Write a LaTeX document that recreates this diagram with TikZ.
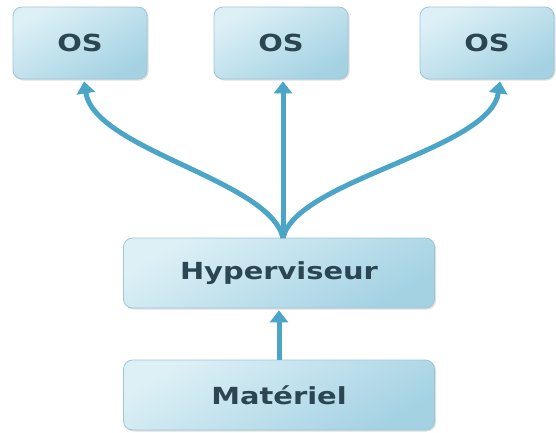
\documentclass[tikz,border=0pt]{standalone}
\usepackage{fontspec}
\usepackage{graphicx}
\setmainfont{DejaVu Sans}
\usetikzlibrary{arrows.meta,shadows}
\definecolor{boxlight}{HTML}{DDF0F6}
\definecolor{boxdark}{HTML}{A4D2E3}
\definecolor{boxline}{HTML}{9AC7D8}
\definecolor{arrowblue}{HTML}{4AA5C6}
\definecolor{labelink}{HTML}{2B4553}
\newcommand\lbl[1]{\scalebox{1.23}[1]{#1}}
\tikzset{
  layerbox/.style={rectangle, rounded corners=9pt, draw=boxline, line width=0.8pt,
    top color=boxlight, bottom color=boxdark, shading angle=30,
    drop shadow={shadow xshift=1.5pt, shadow yshift=-1.5pt, opacity=0.25},
    font=\fontsize{23.5}{26}\selectfont\bfseries, text=labelink,
    inner sep=0pt},
  flow/.style={draw=arrowblue, line width=5pt,
    -{Triangle[width=18pt,length=12pt]}},
}
\begin{document}
\begin{tikzpicture}[x=1pt,y=-1pt]
  \useasboundingbox (0,0) rectangle (556,432);

  % operating systems
  \node[layerbox, minimum width=134pt, minimum height=72pt] (os1) at (80,43) {\lbl{OS}};
  \node[layerbox, minimum width=134pt, minimum height=72pt] (os2) at (281,43) {\lbl{OS}};
  \node[layerbox, minimum width=134pt, minimum height=72pt] (os3) at (487,43) {\lbl{OS}};

  % hypervisor and hardware
  \node[layerbox, minimum width=311pt, minimum height=70pt] (hyp) at (279,273) {\lbl{Hyperviseur}};
  \node[layerbox, minimum width=311pt, minimum height=70pt] (hw) at (279,395) {\lbl{Matériel}};

  % connectors
  \coordinate (fork) at (283,238);
  \draw[flow] (fork) .. controls (270,180) and (95,150) .. ([xshift=4pt,yshift=-2pt]os1.south);
  \draw[flow] (fork) -- ([xshift=2pt,yshift=-2pt]os2.south);
  \draw[flow] (fork) .. controls (296,180) and (490,150) .. ([xshift=13pt,yshift=-2pt]os3.south);
  \draw[flow] (hw.north) -- ([yshift=-2pt]hyp.south);
\end{tikzpicture}
\end{document}
